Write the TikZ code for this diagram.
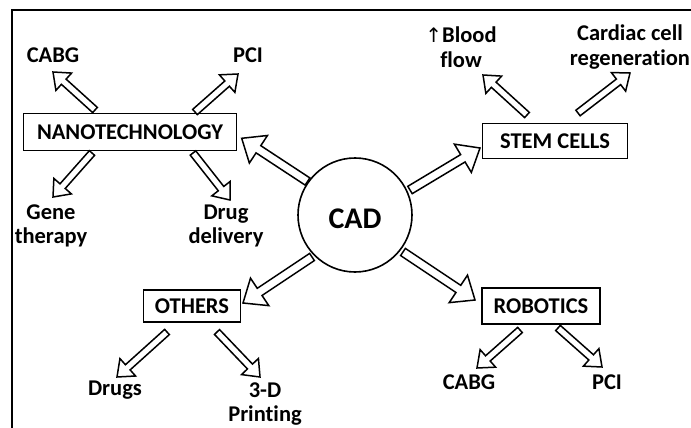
\documentclass[tikz,border=0pt]{standalone}
\usepackage{fontspec}
\setmainfont{Carlito}[Ligatures=NoCommon]
\newfontfamily\symfont{DejaVu Sans}
\usetikzlibrary{calc}
\tikzset{
  box/.style={draw, line width=1.6pt, inner sep=0pt, font=\fontsize{22.5}{24}\selectfont\bfseries},
  lbl/.style={inner sep=0pt, align=center, font=\fontsize{22.5}{24.5}\selectfont\bfseries},
  barrow/.style={draw, line width=1.5pt, line join=miter, fill=white},
}
% #1 tail, #2 tip, #3 half shaft, #4 half head, #5 head length
\newcommand\blockarrow[5]{%
  \draw[barrow] let \p1=($(#2)-(#1)$), \n1={atan2(\y1,\x1)} in
    ($(#1)+(\n1-90:#3)$) -- ($(#2)+(\n1+180:#5)+(\n1-90:#3)$) --
    ($(#2)+(\n1+180:#5)+(\n1-90:#4)$) -- (#2) --
    ($(#2)+(\n1+180:#5)+(\n1+90:#4)$) -- ($(#2)+(\n1+180:#5)+(\n1+90:#3)$) --
    ($(#1)+(\n1+90:#3)$) -- cycle;}
\newcommand\bigarrow[2]{\blockarrow{#1}{#2}{4.3pt}{16.5pt}{20pt}}
\newcommand\smallarrow[2]{\blockarrow{#1}{#2}{3.5pt}{11.7pt}{14.5pt}}
\begin{document}
\begin{tikzpicture}[x=1pt,y=-1pt]
\useasboundingbox (0,0) rectangle (691,428);
\draw[line width=1.4pt] (12,428) -- (12,10) -- (691,10);

% main nodes
\node[draw, circle, line width=1.6pt, minimum size=114pt, inner sep=0pt] (cad) at (355,215) {};
\node[font=\fontsize{30}{32}\selectfont\bfseries, inner sep=0pt] (cadtxt) at (355,219) {CAD};
\node[box, minimum width=213pt, minimum height=37pt] (nano) at (130,132) {NANOTECHNOLOGY};
\node[box, minimum width=145pt, minimum height=35pt] (stem) at (555,141) {STEM CELLS};
\node[box, minimum width=97pt, minimum height=32pt] (others) at (192,306) {OTHERS};
\node[box, minimum width=118pt, minimum height=36pt] (robot) at (541,306) {ROBOTICS};

% leaf labels
\node[lbl] (cabg1) at (53,55) {CABG};
\node[lbl] (pci1) at (248,55) {PCI};
\node[lbl] (gene) at (51,226) {Gene\\therapy};
\node[lbl] (drugdel) at (226,226) {Drug\\delivery};
\node[lbl] (blood) at (461,47) {{\symfont\mdseries\fontsize{20}{24}\selectfont ↑}Blood\\flow};
\node[lbl] (cardiac) at (630,47) {Cardiac cell\\regeneration};
\node[lbl] (drugs) at (115,390) {Drugs};
\node[lbl] (print) at (265,404) {3-D\\Printing};
\node[lbl] (cabg2) at (469,382) {CABG};
\node[lbl] (pci2) at (607,382) {PCI};

% arrow end points
\coordinate (a1t) at (307.5,181.5); \coordinate (a1h) at (241.7,138.3);
\coordinate (a2t) at (410,190);     \coordinate (a2h) at (480,148);
\coordinate (a3t) at (312,257);     \coordinate (a3h) at (243,303);
\coordinate (a4t) at (403,252);     \coordinate (a4h) at (475,300);
\coordinate (s1t) at (95,110);  \coordinate (s1h) at (53,72);
\coordinate (s2t) at (195,112); \coordinate (s2h) at (238,74);
\coordinate (s3t) at (92,153);  \coordinate (s3h) at (53,197);
\coordinate (s4t) at (193,153); \coordinate (s4h) at (230,200);
\coordinate (s5t) at (527,115); \coordinate (s5h) at (483,75);
\coordinate (s6t) at (578,113); \coordinate (s6h) at (630,73);
\coordinate (s7t) at (167,332); \coordinate (s7h) at (117,377);
\coordinate (s8t) at (217,332); \coordinate (s8h) at (260,377);
\coordinate (s9t) at (520,330); \coordinate (s9h) at (477,368);
\coordinate (s10t) at (558,328); \coordinate (s10h) at (602,367);

\bigarrow{a1t}{a1h}
\bigarrow{a2t}{a2h}
\bigarrow{a3t}{a3h}
\bigarrow{a4t}{a4h}
\smallarrow{s1t}{s1h}
\smallarrow{s2t}{s2h}
\smallarrow{s3t}{s3h}
\smallarrow{s4t}{s4h}
\smallarrow{s5t}{s5h}
\smallarrow{s6t}{s6h}
\smallarrow{s7t}{s7h}
\smallarrow{s8t}{s8h}
\smallarrow{s9t}{s9h}
\smallarrow{s10t}{s10h}
\end{tikzpicture}
\end{document}
